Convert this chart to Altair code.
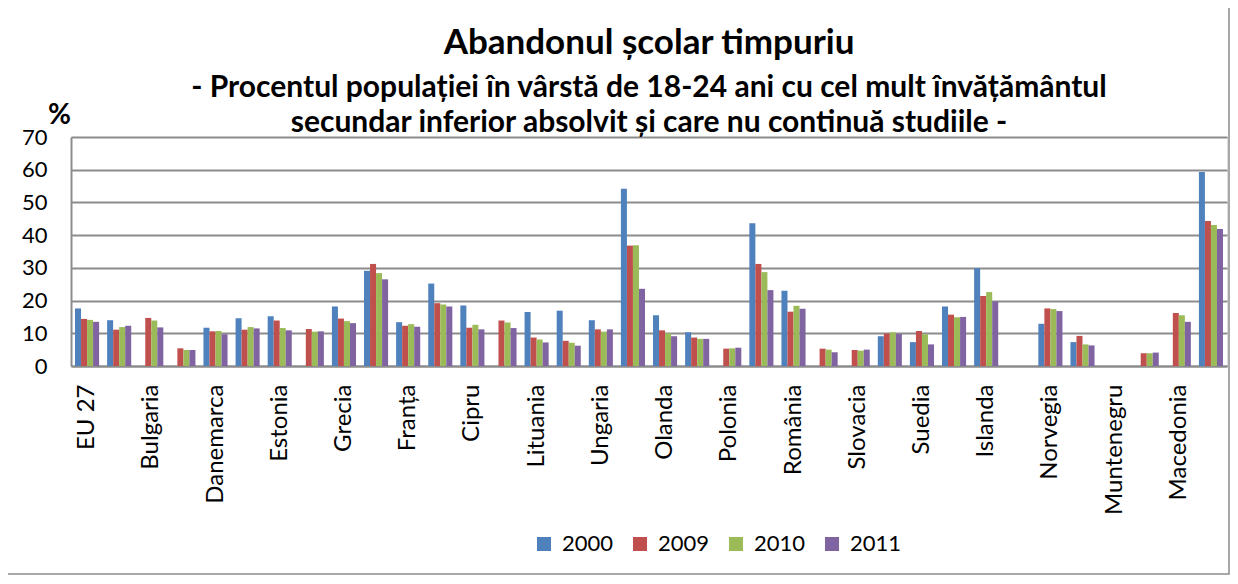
import altair as alt
import pandas as pd

countries = ["EU 27", "Belgia", "Bulgaria", "Cehia", "Danemarca", "Germania", "Estonia",
             "Irlanda", "Grecia", "Spania", "Franța", "Italia", "Cipru", "Letonia",
             "Lituania", "Luxemburg", "Ungaria", "Malta", "Olanda", "Austria", "Polonia",
             "Portugalia", "România", "Slovenia", "Slovacia", "Finlanda", "Suedia",
             "Regatul Unit", "Islanda", "Liechtenstein", "Norvegia", "Elveția",
             "Muntenegru", "Croația", "Macedonia", "Turcia"]

shown_labels = ["EU 27", "Bulgaria", "Danemarca", "Estonia", "Grecia", "Franța", "Cipru",
                "Lituania", "Ungaria", "Olanda", "Polonia", "România", "Slovacia", "Suedia",
                "Islanda", "Norvegia", "Muntenegru", "Macedonia"]

years = ["2000", "2009", "2010", "2011"]

v2000 = [17.6, 14.0, None, None, 11.7, 14.6, 15.2, None, 18.2, 29.1, 13.4, 25.2, 18.5, None,
         16.5, 16.9, 14.0, 54.2, 15.5, 10.3, None, 43.6, 23.0, None, None, 9.1, 7.3,
         18.2, 29.9, None, 12.9, 7.3, None, None, None, 59.3]
v2009 = [14.4, 11.1, 14.7, 5.4, 10.6, 11.1, 13.9, 11.3, 14.5, 31.2, 12.3, 19.2, 11.7, 13.9,
         8.7, 7.7, 11.2, 36.8, 10.9, 8.7, 5.3, 31.2, 16.6, 5.3, 4.9, 9.9, 10.7,
         15.7, 21.4, None, 17.6, 9.2, None, 3.9, 16.2, 44.3]
v2010 = [14.1, 11.9, 13.9, 4.9, 10.7, 11.9, 11.6, 10.5, 13.7, 28.4, 12.8, 18.8, 12.6, 13.3,
         8.1, 7.1, 10.5, 36.9, 10.0, 8.3, 5.4, 28.7, 18.4, 5.0, 4.7, 10.3, 9.7,
         14.9, 22.6, None, 17.4, 6.6, None, 3.9, 15.5, 43.1]
v2011 = [13.5, 12.3, 11.8, 4.9, 9.7, 11.5, 10.9, 10.6, 13.1, 26.5, 12.0, 18.2, 11.2, 11.6,
         7.2, 6.2, 11.2, 23.6, 9.1, 8.3, 5.6, 23.2, 17.5, 4.2, 5.0, 9.8, 6.6,
         15.0, 19.7, None, 16.8, 6.3, None, 4.1, 13.5, 41.9]

colors = ["#4F81BD", "#C0504D", "#9BBB59", "#8064A2"]

rows = []
for yr, vals in zip(years, [v2000, v2009, v2010, v2011]):
    for c, v in zip(countries, vals):
        if v is not None:
            rows.append({"tara": c, "an": yr, "val": v})
df = pd.DataFrame(rows)

FONT = "Lato"
GRID = "#8c8c8c"

bars = alt.Chart(df).mark_bar(stroke=None).encode(
    x=alt.X("tara:N", sort=countries,
            scale=alt.Scale(domain=countries, paddingInner=0.25, paddingOuter=0.125),
            axis=alt.Axis(title=None, values=shown_labels, labelAngle=270,
                          labelAlign="right", labelBaseline="middle",
                          labelFontSize=24, labelFont=FONT, labelColor="black",
                          labelPadding=18, ticks=False, domainColor=GRID,
                          domainWidth=2, grid=False, labelOverlap=False)),
    xOffset=alt.XOffset("an:N", sort=years, scale=alt.Scale(paddingInner=0, paddingOuter=0)),
    y=alt.Y("val:Q", scale=alt.Scale(domain=[0, 70]),
            axis=alt.Axis(title="%", titleAngle=0, titleFontSize=28, titleFont=FONT,
                          titleFontWeight="bold", titleColor="black",
                          titleAlign="center", titleBaseline="bottom",
                          titleX=-12, titleY=-8,
                          values=[0, 10, 20, 30, 40, 50, 60, 70],
                          labelFontSize=22, labelFont=FONT, labelColor="black",
                          labelPadding=24, ticks=False, domainColor=GRID,
                          domainWidth=2, gridColor=GRID, gridWidth=2)),
    color=alt.Color("an:N", sort=years,
                    scale=alt.Scale(domain=years, range=colors),
                    legend=alt.Legend(title=None, orient="none", legendX=462, legendY=396,
                                      direction="horizontal", columns=4,
                                      symbolType="square", symbolSize=196,
                                      symbolStrokeWidth=0, labelFontSize=22,
                                      labelFont=FONT, labelColor="black",
                                      columnPadding=15, labelOffset=7, padding=0)),
)

border = alt.Chart(pd.DataFrame({"a": [0]})).mark_rect(
    fill=None, stroke="#8c8c8c", strokeWidth=1.5
).encode(
    x=alt.value(-66), x2=alt.value(1158), y=alt.value(-130), y2=alt.value(437)
)

chart = alt.layer(border, bars).properties(
    width=1156, height=229,
    autosize=alt.AutoSizeParams(type="none"),
    padding={"left": 63, "top": 129, "right": 3, "bottom": 210},
    title=alt.TitleParams(
        text="Abandonul școlar timpuriu",
        subtitle=["- Procentul populației în vârstă de 18-24 ani cu cel  mult învățământul",
                  "secundar inferior absolvit și care nu continuă studiile -"],
        font=FONT, fontSize=35, fontWeight="bold", color="black",
        subtitleFont=FONT, subtitleFontSize=30, subtitleFontWeight="bold",
        subtitleColor="black", subtitleLineHeight=35, subtitlePadding=12,
        anchor="middle", frame="group", offset=-132),
).configure_view(stroke=None).configure(background="white")

chart.save("out.html", embed_options={"renderer": "svg", "actions": False})
